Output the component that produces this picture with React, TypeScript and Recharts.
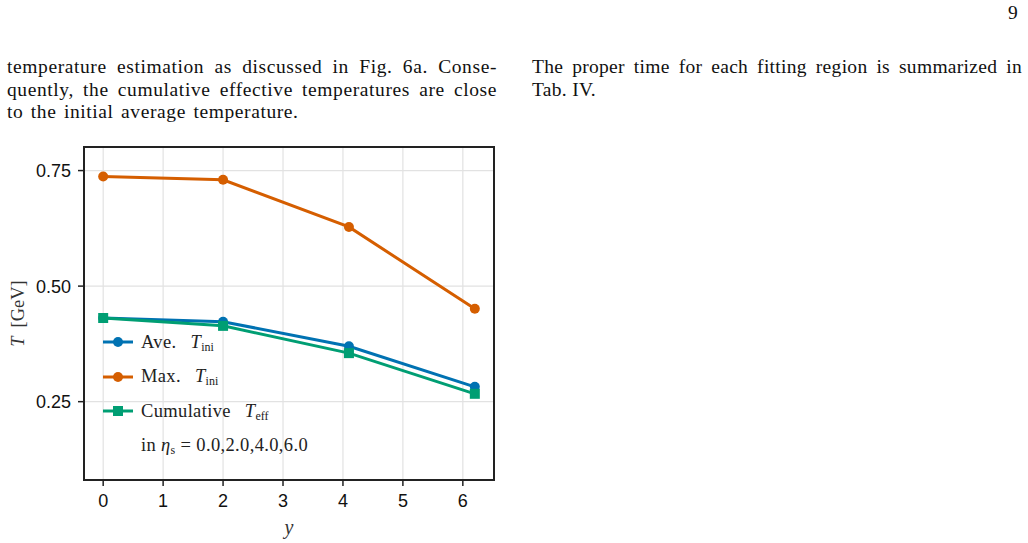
import React from 'react';
import { LineChart, Line, XAxis, YAxis, CartesianGrid, Legend, ReferenceArea } from 'recharts';

// rapidity of each fitting region and the temperatures
const rapidity = [0, 2, 4.1, 6.2];
const aveTini = [0.431, 0.423, 0.37, 0.282];
const maxTini = [0.737, 0.73, 0.628, 0.451];
const cumTeff = [0.431, 0.414, 0.355, 0.267];
const xTicks = [0, 1, 2, 3, 4, 5, 6];
const yTicks = [0.25, 0.5, 0.75];
const xDomain = [-0.32, 6.52];
const yDomain = [0.0805, 0.801];

const BLUE = '#0072b2';
const ORANGE = '#d55e00';
const GREEN = '#009e73';
const FRAME = '#222';
const SERIF = '"Liberation Serif", "DejaVu Serif", serif';
const SANS = '"Liberation Sans", Arial, sans-serif';

const data = rapidity.map((y, i) => ({ y, ave: aveTini[i], max: maxTini[i], cum: cumTeff[i] }));

const SquareDot = (p: any) => {
  if (p.cx == null || p.cy == null) return <g key={`sq-${p.index}`} />;
  return <rect key={`sq-${p.index}`} x={p.cx - 5} y={p.cy - 5} width={10} height={10} fill={GREEN} />;
};

const legendRows = [
  { color: BLUE, square: false, label: 'Ave.', sub: 'ini' },
  { color: ORANGE, square: false, label: 'Max.', sub: 'ini' },
  { color: GREEN, square: true, label: 'Cumulative', sub: 'eff' },
];

function LegendBox() {
  return (
    <div style={{ fontFamily: SERIF, fontSize: 18.5, letterSpacing: 0.35, color: '#222' }}>
      {legendRows.map((r) => (
        <div key={r.label} style={{ display: 'flex', alignItems: 'center', height: 34.5 }}>
          <svg width={38} height={14} style={{ display: 'block' }}>
            <line x1={0} y1={7} x2={30} y2={7} stroke={r.color} strokeWidth={3} />
            {r.square ? (
              <rect x={10} y={2} width={10} height={10} fill={r.color} />
            ) : (
              <circle cx={15} cy={7} r={5} fill={r.color} />
            )}
          </svg>
          <span>{r.label}</span>
          <span style={{ marginLeft: 14, fontStyle: 'italic' }}>T</span>
          <span style={{ fontSize: 12, position: 'relative', top: 5, letterSpacing: 0 }}>{r.sub}</span>
        </div>
      ))}
      <div style={{ height: 34.5, display: 'flex', alignItems: 'center', paddingLeft: 38 }}>
        <span>in&nbsp;</span>
        <span style={{ fontStyle: 'italic' }}>η</span>
        <span style={{ fontSize: 12, position: 'relative', top: 5 }}>s</span>
        <span>&nbsp;=&nbsp;0.0,2.0,4.0,6.0</span>
      </div>
    </div>
  );
}

const YLabel = (props: any) => {
  const vb = props.viewBox || { x: 0, y: 147, width: 84, height: 333 };
  const cx = 18;
  const cy = vb.y + vb.height / 2;
  return (
    <text
      x={cx}
      y={cy}
      transform={`rotate(-90, ${cx}, ${cy})`}
      textAnchor="middle"
      dominantBaseline="central"
      fontFamily={SERIF}
      fontSize={18.5}
      fill="#333"
    >
      <tspan fontStyle="italic">T</tspan>
      <tspan dx={9}>[GeV]</tspan>
    </text>
  );
};

const XLabel = (props: any) => {
  const vb = props.viewBox || { x: 84, y: 480, width: 410, height: 63 };
  return (
    <text
      x={vb.x + vb.width / 2}
      y={vb.y + 47}
      textAnchor="middle"
      dominantBaseline="central"
      fontFamily={SERIF}
      fontStyle="italic"
      fontSize={20}
      fill="#333"
    >
      y
    </text>
  );
};

const paraStyle: React.CSSProperties = {
  position: 'absolute',
  width: 490,
  fontFamily: SERIF,
  fontSize: 19.5,
  letterSpacing: 0.6,
  wordSpacing: 2,
  lineHeight: '22.5px',
  color: '#111',
};

const justified: React.CSSProperties = { textAlign: 'justify', textAlignLast: 'justify', whiteSpace: 'nowrap' };

export default function App() {
  return (
    <div style={{ position: 'absolute', left: 0, top: 0, width: 1028, height: 543, background: '#fff' }}>
      <div style={{ position: 'absolute', left: 1008, top: 2, fontFamily: SERIF, fontSize: 19.5, color: '#111' }}>9</div>
      <div style={{ ...paraStyle, left: 7, top: 56 }}>
        <div style={justified}>temperature estimation as discussed in Fig. 6a. Conse-</div>
        <div style={justified}>quently, the cumulative effective temperatures are close</div>
        <div>to the initial average temperature.</div>
      </div>
      <div style={{ ...paraStyle, left: 532, top: 56, letterSpacing: 0.3, wordSpacing: 0 }}>
        <div style={justified}>The proper time for each fitting region is summarized in</div>
        <div>Tab. IV.</div>
      </div>

      <div style={{ position: 'absolute', left: 0, top: 0 }}>
        <LineChart width={1028} height={543} data={data} margin={{ top: 147, right: 534, bottom: 0, left: 0 }}>
          <CartesianGrid stroke="#e2e2e2" strokeWidth={1.2} />
          <XAxis
            dataKey="y"
            type="number"
            domain={xDomain}
            allowDataOverflow
            ticks={xTicks}
            height={63}
            tickSize={6}
            tickMargin={8}
            axisLine={{ stroke: FRAME, strokeWidth: 2 }}
            tickLine={{ stroke: FRAME, strokeWidth: 1.5 }}
            tick={{ fontFamily: SANS, fontSize: 18, fill: '#111' }}
            label={<XLabel />}
          />
          <YAxis
            type="number"
            domain={yDomain}
            allowDataOverflow
            ticks={yTicks}
            width={84}
            tickSize={6}
            tickMargin={7}
            tickFormatter={(v: number) => v.toFixed(2)}
            axisLine={{ stroke: FRAME, strokeWidth: 2 }}
            tickLine={{ stroke: FRAME, strokeWidth: 1.5 }}
            tick={{ fontFamily: SANS, fontSize: 18, fill: '#111' }}
            label={<YLabel />}
          />
          {/* plot frame: box around the whole axis domain */}
          <ReferenceArea
            x1={xDomain[0]}
            x2={xDomain[1]}
            y1={yDomain[0]}
            y2={yDomain[1]}
            fill="#fff"
            fillOpacity={0}
            stroke={FRAME}
            strokeWidth={2}
            ifOverflow="visible"
          />
          <Legend
            layout="vertical"
            align="center"
            verticalAlign="middle"
            content={() => <LegendBox />}
            wrapperStyle={{ position: 'absolute', left: 103, top: 325, width: 260 }}
          />
          <Line
            dataKey="ave"
            stroke={BLUE}
            strokeWidth={3}
            dot={{ r: 5, fill: BLUE, stroke: BLUE, strokeWidth: 0 }}
            activeDot={false}
            isAnimationActive={false}
          />
          <Line
            dataKey="max"
            stroke={ORANGE}
            strokeWidth={3}
            dot={{ r: 5, fill: ORANGE, stroke: ORANGE, strokeWidth: 0 }}
            activeDot={false}
            isAnimationActive={false}
          />
          <Line
            dataKey="cum"
            stroke={GREEN}
            strokeWidth={3}
            dot={SquareDot}
            activeDot={false}
            isAnimationActive={false}
          />
        </LineChart>
      </div>
    </div>
  );
}
